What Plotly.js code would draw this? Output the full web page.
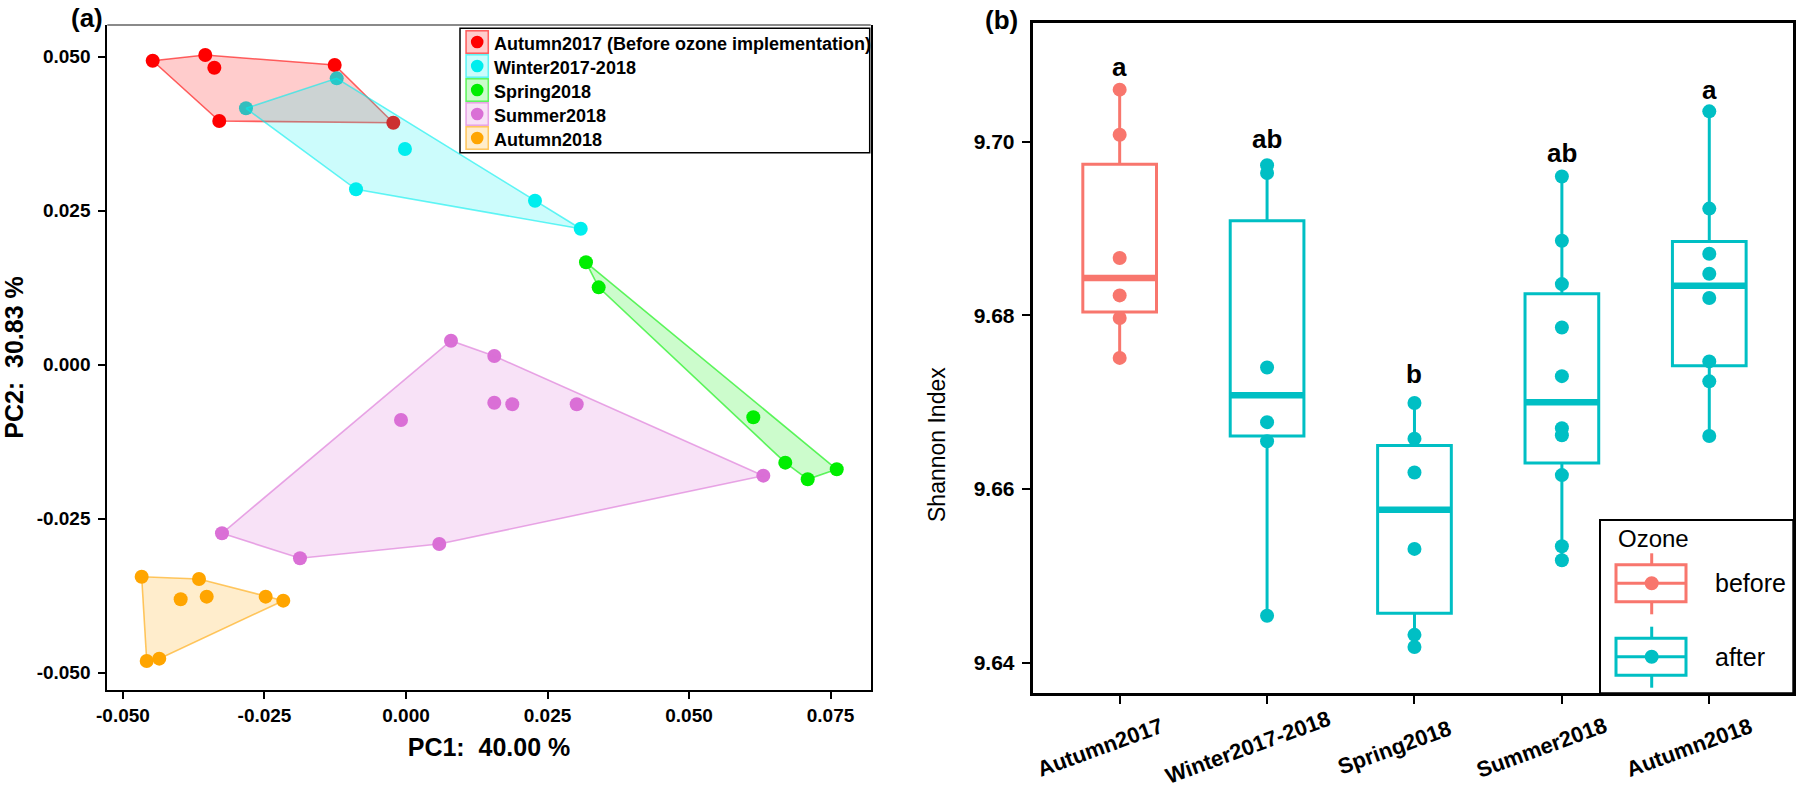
<!DOCTYPE html>
<html>
<head>
<meta charset="utf-8">
<script src="https://cdn.plot.ly/plotly-3.0.1.min.js"></script>
<style>html,body{margin:0;padding:0;background:#fff;}#chart{width:1800px;height:791px;}</style>
</head>
<body>
<div id="chart"></div>
<script>
// ---------------- Panel (a): PCA ----------------
const pcaGroupNames = ['Autumn2017 (Before ozone implementation)', 'Winter2017-2018', 'Spring2018', 'Summer2018', 'Autumn2018'];
const autumn2017PC1 = [-0.04475, -0.03546, -0.03386, -0.01260, -0.03299, -0.00224];
const autumn2017PC2 = [0.04935, 0.05028, 0.04821, 0.04865, 0.03956, 0.03929];
const winter1718PC1 = [-0.02827, -0.01224, -0.00018, -0.00883, 0.02279, 0.03087];
const winter1718PC2 = [0.04163, 0.04649, 0.03502, 0.02848, 0.02663, 0.02208];
const spring2018PC1 = [0.03180, 0.03404, 0.06136, 0.06701, 0.07097, 0.07610];
const spring2018PC2 = [0.01663, 0.01257, -0.00853, -0.01589, -0.01859, -0.01697];
const summer2018PC1 = [0.00795, 0.01560, 0.01560, 0.01878, 0.03016, -0.00088, -0.03251, -0.01873, 0.00588, 0.06313];
const summer2018PC2 = [0.00391, 0.00142, -0.00616, -0.00642, -0.00642, -0.00896, -0.02735, -0.03141, -0.02909, -0.01800];
const autumn2018PC1 = [-0.04670, -0.03657, -0.03981, -0.03521, -0.02479, -0.02168, -0.04581, -0.04359];
const autumn2018PC2 = [-0.03440, -0.03477, -0.03806, -0.03764, -0.03764, -0.03829, -0.04808, -0.04770];
const pcaXTickVals = [-0.050, -0.025, 0.000, 0.025, 0.050, 0.075];
const pcaXTickText = ['-0.050', '-0.025', '0.000', '0.025', '0.050', '0.075'];
const pcaYTickVals = [-0.050, -0.025, 0.000, 0.025, 0.050];
const pcaYTickText = ['-0.050', '-0.025', '0.000', '0.025', '0.050'];

// ---------------- Panel (b): Shannon index ----------------
const seasons = ['Autumn2017', 'Winter2017-2018', 'Spring2018', 'Summer2018', 'Autumn2018'];
const ozoneStatus = ['before', 'after', 'after', 'after', 'after'];
const boxQ1 = [9.6804, 9.6661, 9.6457, 9.6630, 9.6742];
const boxMedian = [9.6843, 9.6708, 9.6576, 9.6700, 9.6834];
const boxQ3 = [9.6974, 9.6909, 9.6650, 9.6825, 9.6885];
const shannonAutumn2017 = [9.7060, 9.7008, 9.6866, 9.6823, 9.6797, 9.6751];
const shannonWinter1718 = [9.6973, 9.6964, 9.6740, 9.6677, 9.6655, 9.6454];
const shannonSpring2018 = [9.6699, 9.6658, 9.6619, 9.6531, 9.6432, 9.6418];
const shannonSummer2018 = [9.6960, 9.6886, 9.6836, 9.6786, 9.6730, 9.6670, 9.6662, 9.6616, 9.6534, 9.6518];
const shannonAutumn2018 = [9.7035, 9.6923, 9.6871, 9.6848, 9.6820, 9.6747, 9.6724, 9.6661];
const sigLetters = ['a', 'ab', 'b', 'ab', 'a'];
const sigLetterY = [9.7086, 9.7003, 9.6733, 9.6987, 9.7060];
const shannonYTickVals = [9.64, 9.66, 9.68, 9.70];
const shannonYTickText = ['9.64', '9.66', '9.68', '9.70'];
const ozoneLevels = ['before', 'after'];

// ---------------- styling ----------------
const pcaColors = ['255,0,0', '0,238,238', '0,238,0', '218,112,214', '255,165,0'];
const ozoneColors = {before: '#F8766D', after: '#00BFC4'};
const FONT = 'Liberation Sans, Arial, Helvetica, sans-serif';
const W = 1800, H = 791;
const px = v => v / W;
const py = v => 1 - v / H;

function convexHull(xs, ys) {
  const pts = xs.map((x, i) => [x, ys[i]]).sort((a, b) => a[0] - b[0] || a[1] - b[1]);
  const cross = (o, a, b) => (a[0] - o[0]) * (b[1] - o[1]) - (a[1] - o[1]) * (b[0] - o[0]);
  const lower = [];
  for (const p of pts) { while (lower.length >= 2 && cross(lower[lower.length - 2], lower[lower.length - 1], p) <= 0) lower.pop(); lower.push(p); }
  const upper = [];
  for (const p of pts.slice().reverse()) { while (upper.length >= 2 && cross(upper[upper.length - 2], upper[upper.length - 1], p) <= 0) upper.pop(); upper.push(p); }
  upper.pop(); lower.pop();
  const h = lower.concat(upper); h.push(h[0]);
  return {x: h.map(p => p[0]), y: h.map(p => p[1])};
}

const pcaData = [
  [autumn2017PC1, autumn2017PC2], [winter1718PC1, winter1718PC2], [spring2018PC1, spring2018PC2],
  [summer2018PC1, summer2018PC2], [autumn2018PC1, autumn2018PC2]
];
const traces = [];
pcaData.forEach((d, i) => {
  traces.push({type: 'scatter', mode: 'markers', x: d[0], y: d[1], name: pcaGroupNames[i],
    marker: {size: 14, color: 'rgb(' + pcaColors[i] + ')'}, xaxis: 'x', yaxis: 'y', hoverinfo: 'skip'});
});
pcaData.forEach((d, i) => {
  const h = convexHull(d[0], d[1]);
  traces.push({type: 'scatter', mode: 'lines', x: h.x, y: h.y, fill: 'toself',
    fillcolor: 'rgba(' + pcaColors[i] + ',0.2)', line: {color: 'rgba(' + pcaColors[i] + ',0.6)', width: 1.6},
    xaxis: 'x', yaxis: 'y', hoverinfo: 'skip', name: pcaGroupNames[i] + ' hull'});
});

const shannonValues = [shannonAutumn2017, shannonWinter1718, shannonSpring2018, shannonSummer2018, shannonAutumn2018];
ozoneLevels.forEach(lvl => {
  const idx = seasons.map((s, i) => i).filter(i => ozoneStatus[i] === lvl);
  traces.push({type: 'box', name: lvl, x: idx.map(i => seasons[i]),
    q1: idx.map(i => boxQ1[i]), median: idx.map(i => boxMedian[i]), q3: idx.map(i => boxQ3[i]),
    lowerfence: idx.map(i => Math.min(...shannonValues[i])), upperfence: idx.map(i => Math.max(...shannonValues[i])),
    boxpoints: false, width: 0.5, whiskerwidth: 0, fillcolor: 'rgba(255,255,255,0)',
    line: {color: ozoneColors[lvl], width: 3}, xaxis: 'x2', yaxis: 'y2', hoverinfo: 'skip'});
});
// thicker median bars
traces.push({type: 'scatter', mode: 'markers', x: seasons, y: boxMedian, xaxis: 'x2', yaxis: 'y2', hoverinfo: 'skip',
  marker: {symbol: 'line-ew', size: 52.5, color: seasons.map((s, i) => ozoneColors[ozoneStatus[i]]),
    line: {width: 6.5, color: seasons.map((s, i) => ozoneColors[ozoneStatus[i]])}}});
// sample points
seasons.forEach((s, i) => {
  traces.push({type: 'scatter', mode: 'markers', x: shannonValues[i].map(() => s), y: shannonValues[i],
    marker: {size: 14, color: ozoneColors[ozoneStatus[i]]}, xaxis: 'x2', yaxis: 'y2', hoverinfo: 'skip'});
});

// ---------------- annotations & shapes ----------------
const annotations = [
  {xref: 'paper', yref: 'paper', x: px(86.5), y: py(18), text: '(a)', showarrow: false, xanchor: 'center', yanchor: 'middle', font: {size: 26, weight: 700}},
  {xref: 'paper', yref: 'paper', x: px(1001), y: py(20), text: '(b)', showarrow: false, xanchor: 'center', yanchor: 'middle', font: {size: 26, weight: 700}},
  {xref: 'paper', yref: 'paper', x: px(937), y: py(445), text: 'Shannon Index', showarrow: false, textangle: -90, xanchor: 'center', yanchor: 'middle', font: {size: 23}}
];
seasons.forEach((s, i) => {
  annotations.push({xref: 'x2', yref: 'y2', x: s, y: sigLetterY[i], text: sigLetters[i], showarrow: false,
    xanchor: 'center', yanchor: 'middle', font: {size: 26, weight: 700}});
  annotations.push({xref: 'x2', yref: 'paper', x: s, y: py(747), xshift: -20, text: s, showarrow: false, textangle: -20,
    xanchor: 'center', yanchor: 'middle', font: {size: 22, weight: 700}});
});

const shapes = [];
// panel (a) top border (grey in the original)
shapes.push({type: 'line', xref: 'paper', yref: 'paper', x0: px(107.3), x1: px(870.7), y0: py(25), y1: py(25), line: {color: '#8a8a8a', width: 2}, layer: 'above'});
// legend (a)
shapes.push({type: 'rect', xref: 'paper', yref: 'paper', x0: px(460), x1: px(869.7), y0: py(28.3), y1: py(152.7),
  line: {color: '#000', width: 1.5}, fillcolor: '#fff', layer: 'above'});
const legAKeyY = [42, 66, 90, 114, 138];
pcaGroupNames.forEach((n, i) => {
  const cy = legAKeyY[i];
  shapes.push({type: 'rect', xref: 'paper', yref: 'paper', x0: px(466), x1: px(488.3), y0: py(cy - 11.3), y1: py(cy + 11.3),
    line: {color: 'rgba(' + pcaColors[i] + ',0.6)', width: 1.5}, fillcolor: 'rgba(' + pcaColors[i] + ',0.2)', layer: 'above'});
  shapes.push({type: 'circle', xref: 'paper', yref: 'paper', x0: px(477.2 - 6.3), x1: px(477.2 + 6.3), y0: py(cy - 6.3), y1: py(cy + 6.3),
    line: {width: 0}, fillcolor: 'rgb(' + pcaColors[i] + ')', layer: 'above'});
  annotations.push({xref: 'paper', yref: 'paper', x: px(492), y: py(cy + 2), text: n, showarrow: false, xanchor: 'left', yanchor: 'middle',
    font: {size: 18, weight: 700}});
});
// legend (b)
shapes.push({type: 'rect', xref: 'paper', yref: 'paper', x0: px(1600), x1: px(1793.3), y0: py(520), y1: py(693.3),
  line: {color: '#000', width: 2}, fillcolor: '#fff', layer: 'above'});
annotations.push({xref: 'paper', yref: 'paper', x: px(1616), y: py(538), text: 'Ozone', showarrow: false, xanchor: 'left', yanchor: 'middle', font: {size: 24}});
const legBKey = [{mid: 583.3}, {mid: 656.7}];
ozoneLevels.forEach((lvl, k) => {
  const m = legBKey[k].mid, c = ozoneColors[lvl], cx = 1651.7;
  shapes.push({type: 'line', xref: 'paper', yref: 'paper', x0: px(cx), x1: px(cx), y0: py(m - 30), y1: py(m - 18.5), line: {color: c, width: 3}, layer: 'above'});
  shapes.push({type: 'line', xref: 'paper', yref: 'paper', x0: px(cx), x1: px(cx), y0: py(m + 18.5), y1: py(m + 31), line: {color: c, width: 3}, layer: 'above'});
  shapes.push({type: 'rect', xref: 'paper', yref: 'paper', x0: px(1616), x1: px(1686), y0: py(m - 18.5), y1: py(m + 18.5), line: {color: c, width: 3}, fillcolor: 'rgba(255,255,255,0)', layer: 'above'});
  shapes.push({type: 'line', xref: 'paper', yref: 'paper', x0: px(1616), x1: px(1686), y0: py(m), y1: py(m), line: {color: c, width: 3}, layer: 'above'});
  shapes.push({type: 'circle', xref: 'paper', yref: 'paper', x0: px(cx - 7), x1: px(cx + 7), y0: py(m - 7), y1: py(m + 7), line: {width: 0}, fillcolor: c, layer: 'above'});
  annotations.push({xref: 'paper', yref: 'paper', x: px(1713), y: py(m), text: lvl, showarrow: false, xanchor: 'left', yanchor: 'middle', font: {size: 25}});
});

const axisCommon = {showgrid: false, zeroline: false, showline: true, linecolor: '#000', mirror: true, ticks: 'outside', tickcolor: '#000', tickwidth: 2};

const layout = {
  width: W, height: H, margin: {l: 0, r: 0, t: 0, b: 0}, paper_bgcolor: '#fff', plot_bgcolor: '#fff',
  showlegend: false, boxmode: 'overlay', font: {family: FONT, color: '#000'},
  xaxis: Object.assign({}, axisCommon, {domain: [px(107.3), px(870.7)], range: [-0.05277, 0.08210], anchor: 'y', mirror: false,
    tickmode: 'array', tickvals: pcaXTickVals, ticktext: pcaXTickText, ticklen: 7, linewidth: 2,
    tickfont: {size: 19, weight: 700}, title: {text: 'PC1:\u00a0 40.00 %', font: {size: 25, weight: 700}, standoff: 14}}),
  yaxis: Object.assign({}, axisCommon, {domain: [py(690), py(25)], range: [-0.05279, 0.05515], anchor: 'x',
    tickmode: 'array', tickvals: pcaYTickVals, ticktext: pcaYTickText, ticklen: 7, linewidth: 2, ticklabelstandoff: 4,
    tickfont: {size: 19, weight: 700}, title: {text: 'PC2:\u00a0 30.83 %', font: {size: 25, weight: 700}, standoff: 12}}),
  xaxis2: Object.assign({}, axisCommon, {domain: [px(1032.7), px(1793.3)], type: 'category', categoryorder: 'array', categoryarray: seasons,
    range: [-0.59, 4.57], anchor: 'y2', showticklabels: false, ticklen: 8, linewidth: 3}),
  yaxis2: Object.assign({}, axisCommon, {domain: [py(693.3), py(23.3)], range: [9.63647, 9.71364], anchor: 'x2',
    tickmode: 'array', tickvals: shannonYTickVals, ticktext: shannonYTickText, ticklen: 8, linewidth: 3,
    tickfont: {size: 21, weight: 700}, ticklabelstandoff: 3}),
  annotations: annotations, shapes: shapes
};

Plotly.newPlot('chart', traces, layout, {displayModeBar: false, staticPlot: true});
</script>
</body>
</html>
